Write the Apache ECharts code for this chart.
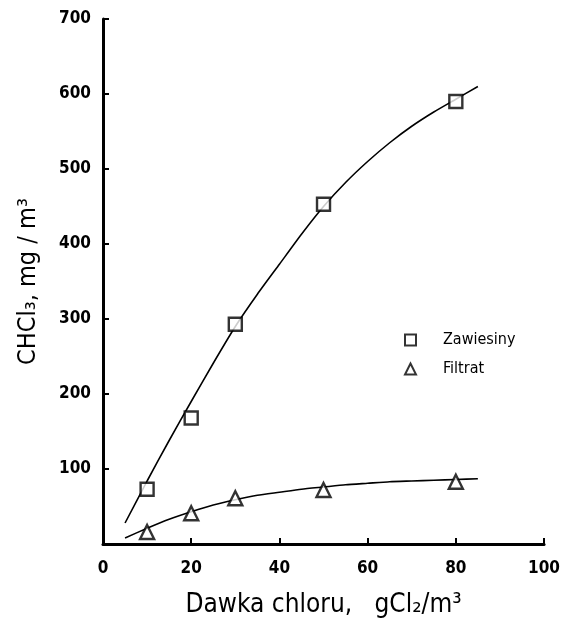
<!DOCTYPE html>
<html>
<head>
<meta charset="utf-8">
<script src="https://cdn.jsdelivr.net/npm/echarts@6/dist/echarts.min.js"></script>
<style>
  html, body { margin: 0; padding: 0; background: #fff; }
  #chart { width: 563px; height: 623px; }
</style>
</head>
<body>
<div id="chart"></div>
<script>
// measured points
const doseX = [10, 20, 30, 50, 80];
const zawiesiny = [73, 168, 293, 453, 590];
const filtrat = [16, 41, 61, 72, 83];

// hand drawn fitted curves, every 5 units
const curveX = [5, 10, 15, 20, 25, 30, 35, 40, 45, 50, 55, 60, 65, 70, 75, 80, 85];
const zawCurve = [28, 84, 138, 190, 241, 290, 333, 373, 413, 450, 482, 510, 535, 557, 576, 593, 610];
const filCurve = [8, 21, 33, 43, 52, 59, 65, 69, 73, 76, 79, 81, 83, 84, 85, 86, 87];

const xTicks = [0, 20, 40, 60, 80, 100];
const yTicks = [100, 200, 300, 400, 500, 600, 700];

const font = "DejaVu Sans Condensed";

function pairs(xs, ys) {
  return xs.map((x, i) => [x, ys[i]]);
}

const chart = echarts.init(document.getElementById("chart"));

const option = {
  backgroundColor: "#fff",
  animation: false,
  textStyle: { fontFamily: font, color: "#000" },
  grid: { left: 103, right: 12, top: 19, bottom: 79, containLabel: false },
  legend: {
    orient: "vertical",
    left: 399,
    top: 327,
    itemWidth: 11,
    itemHeight: 11,
    itemGap: 13,
    data: ["Zawiesiny", "Filtrat"],
    textStyle: { fontFamily: font, fontSize: 16, color: "#000", padding: [0, 0, 0, 22] },
  },
  xAxis: {
    type: "value",
    min: 0,
    max: 100,
    interval: 20,
    name: "Dawka chloru,   gCl₂/m³",
    nameLocation: "middle",
    nameGap: 48,
    nameTextStyle: { fontFamily: font, fontSize: 26, color: "#000" },
    axisLine: { show: true, onZero: false, lineStyle: { color: "#000", width: 3 } },
    axisTick: { show: true, inside: true, length: 6, lineStyle: { color: "#000", width: 2 } },
    axisLabel: {
      fontFamily: font, fontSize: 17, fontWeight: "bold", color: "#000", margin: 16,
      formatter: (v) => (xTicks.includes(v) ? String(v) : ""),
    },
    splitLine: { show: false },
  },
  yAxis: {
    type: "value",
    min: 0,
    max: 700,
    interval: 100,
    name: "CHCl₃, mg / m³",
    nameLocation: "middle",
    nameRotate: 90,
    nameGap: 62,
    nameTextStyle: { fontFamily: font, fontSize: 25, color: "#000" },
    axisLine: { show: true, onZero: false, lineStyle: { color: "#000", width: 3 } },
    axisTick: { show: true, inside: true, length: 6, lineStyle: { color: "#000", width: 2 } },
    axisLabel: {
      fontFamily: font, fontSize: 17, fontWeight: "bold", color: "#000", margin: 12,
      formatter: (v) => (yTicks.includes(v) ? String(v) : ""),
    },
    splitLine: { show: false },
  },
  series: [
    {
      name: "zawCurve",
      type: "line",
      smooth: 0.2,
      showSymbol: false,
      silent: true,
      lineStyle: { color: "#000", width: 1.6 },
      data: pairs(curveX, zawCurve),
      z: 2,
    },
    {
      name: "filCurve",
      type: "line",
      smooth: 0.2,
      showSymbol: false,
      silent: true,
      lineStyle: { color: "#000", width: 1.6 },
      data: pairs(curveX, filCurve),
      z: 2,
    },
    {
      name: "Zawiesiny",
      type: "scatter",
      symbol: "rect",
      symbolSize: 13,
      itemStyle: { color: "#fff", borderColor: "#000", borderWidth: 2.4 },
      data: pairs(doseX, zawiesiny),
      z: 5,
    },
    {
      name: "Filtrat",
      type: "scatter",
      symbol: "triangle",
      symbolSize: 14,
      itemStyle: { color: "#fff", borderColor: "#000", borderWidth: 2.4 },
      data: pairs(doseX, filtrat),
      z: 5,
    },
  ],
};

chart.setOption(option);
</script>
</body>
</html>
